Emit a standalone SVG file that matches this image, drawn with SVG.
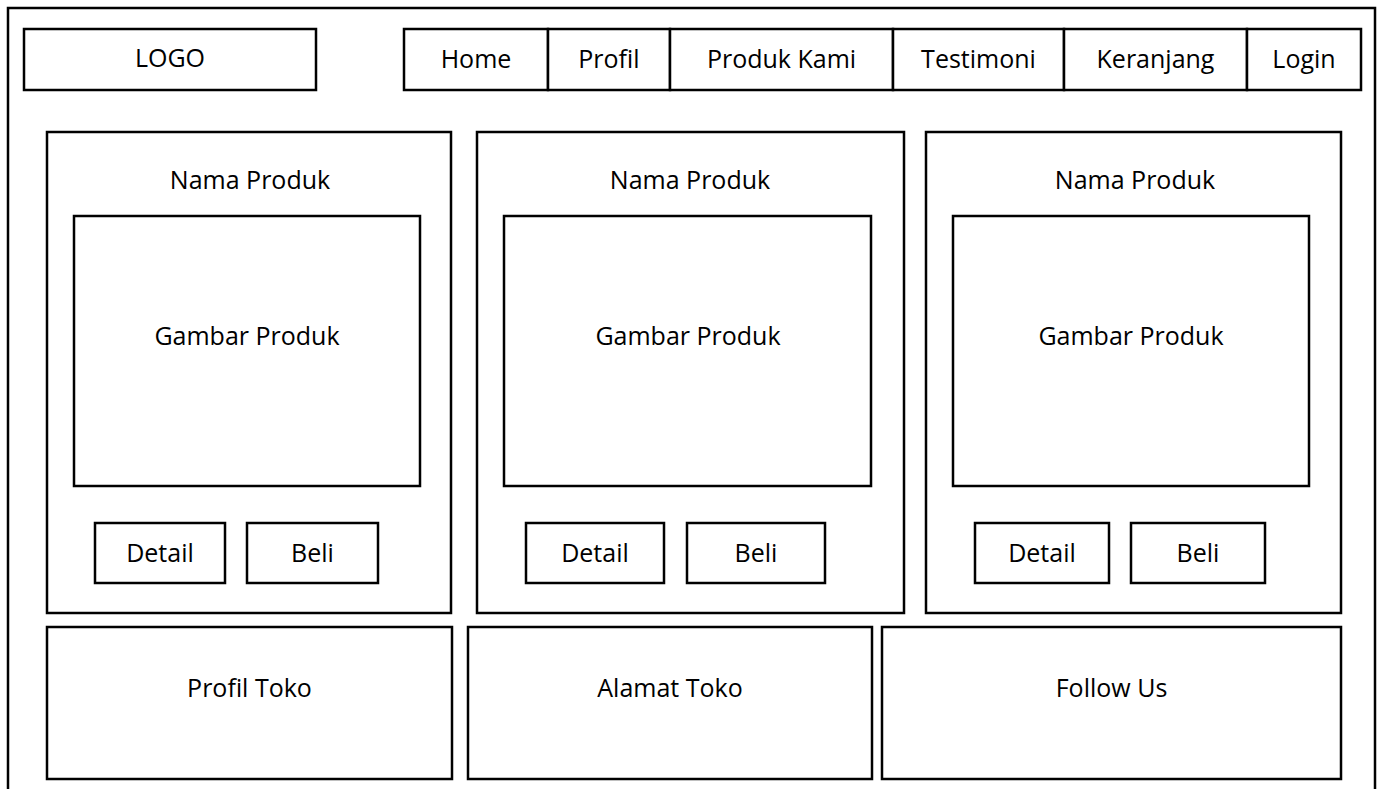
<svg xmlns="http://www.w3.org/2000/svg" width="1382" height="789" viewBox="0 0 1382 789">
<style>
rect{fill:#fff;stroke:#000;stroke-width:2.5}
text{font-family:"Open Sans","Noto Sans",sans-serif;font-size:25px;fill:#000;text-anchor:middle}
</style>
<rect x="0" y="0" width="1382" height="789" style="stroke:none"/>
<g id="frame"><rect x="8" y="8" width="1367" height="800"/></g>
<g id="logo"><rect x="24" y="29" width="292" height="61"/><text x="170" y="67">LOGO</text></g>
<g id="nav">
<g id="nav-home"><rect x="404" y="29" width="144" height="61"/><text x="476" y="68">Home</text></g>
<g id="nav-profil"><rect x="548" y="29" width="122" height="61"/><text x="609" y="68">Profil</text></g>
<g id="nav-produk"><rect x="670" y="29" width="223" height="61"/><text x="781.5" y="68">Produk Kami</text></g>
<g id="nav-testimoni"><rect x="893" y="29" width="171" height="61"/><text x="978.5" y="68">Testimoni</text></g>
<g id="nav-keranjang"><rect x="1064" y="29" width="183" height="61"/><text x="1155.5" y="68">Keranjang</text></g>
<g id="nav-login"><rect x="1247" y="29" width="114" height="61"/><text x="1304" y="68">Login</text></g>
</g>
<g id="card1">
<rect x="47" y="132" width="404" height="481"/>
<text x="250" y="189">Nama Produk</text>
<rect x="74" y="216" width="346" height="270"/>
<text x="247" y="345">Gambar Produk</text>
<rect x="95" y="523" width="130" height="60"/><text x="160" y="562">Detail</text>
<rect x="247" y="523" width="131" height="60"/><text x="312.5" y="562">Beli</text>
</g>
<g id="card2">
<rect x="477" y="132" width="427" height="481"/>
<text x="690" y="189">Nama Produk</text>
<rect x="504" y="216" width="367" height="270"/>
<text x="688" y="345">Gambar Produk</text>
<rect x="526" y="523" width="138" height="60"/><text x="595" y="562">Detail</text>
<rect x="687" y="523" width="138" height="60"/><text x="756" y="562">Beli</text>
</g>
<g id="card3">
<rect x="926" y="132" width="415" height="481"/>
<text x="1135" y="189">Nama Produk</text>
<rect x="953" y="216" width="356" height="270"/>
<text x="1131" y="345">Gambar Produk</text>
<rect x="975" y="523" width="134" height="60"/><text x="1042" y="562">Detail</text>
<rect x="1131" y="523" width="134" height="60"/><text x="1198" y="562">Beli</text>
</g>
<g id="footer-profil"><rect x="47" y="627" width="405" height="152"/><text x="249.5" y="697">Profil Toko</text></g>
<g id="footer-alamat"><rect x="468" y="627" width="404" height="152"/><text x="670" y="697">Alamat Toko</text></g>
<g id="footer-follow"><rect x="882" y="627" width="459" height="152"/><text x="1111.5" y="697">Follow Us</text></g>
<g id="connectors"/>
</svg>
